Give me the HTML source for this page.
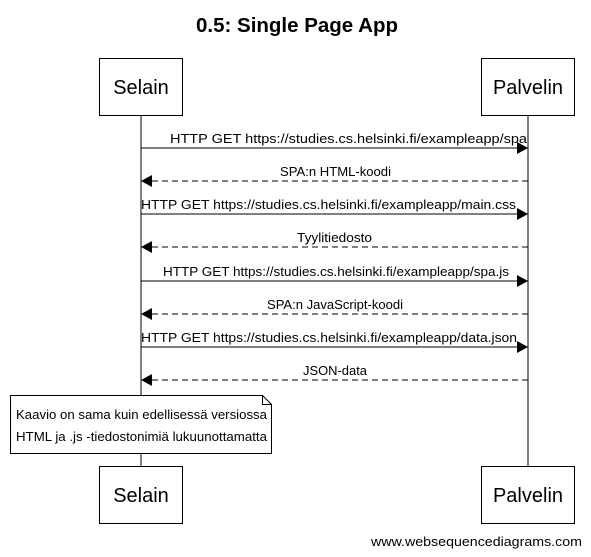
<!DOCTYPE html>
<html><head><meta charset="utf-8"><style>body{margin:0;background:#fff}svg{display:block}</style></head><body>
<svg width="591" height="557" xmlns="http://www.w3.org/2000/svg" font-family="Liberation Sans, Arial, sans-serif">
<defs><marker id="a" markerWidth="12" markerHeight="12" refX="11" refY="6" orient="auto" markerUnits="userSpaceOnUse"><path d="M0,0 L11,6 L0,12 z" fill="#000"/></marker></defs>
<text x="196" y="32" textLength="202" lengthAdjust="spacingAndGlyphs" font-size="20" font-weight="bold">0.5: Single Page App</text>
<line x1="141" y1="115" x2="141" y2="466" stroke="#000"/>
<line x1="528" y1="115" x2="528" y2="466" stroke="#000"/>
<g fill="#fff" stroke="#000">
<rect x="99.5" y="58.5" width="83" height="57"/><rect x="481.5" y="58.5" width="93" height="57"/>
<rect x="99.5" y="466.5" width="83" height="57"/><rect x="481.5" y="466.5" width="93" height="57"/>
</g>
<g font-size="20" text-anchor="middle">
<text x="141" y="94">Selain</text><text x="528" y="94">Palvelin</text>
<text x="141" y="502">Selain</text><text x="528" y="502">Palvelin</text>
</g>
<g stroke="#000" marker-end="url(#a)">
<line x1="141" y1="148" x2="528" y2="148"/>
<line x1="528" y1="181" x2="141" y2="181" stroke-dasharray="6,4"/>
<line x1="141" y1="214" x2="528" y2="214"/>
<line x1="528" y1="247" x2="141" y2="247" stroke-dasharray="6,4"/>
<line x1="141" y1="281" x2="528" y2="281"/>
<line x1="528" y1="314" x2="141" y2="314" stroke-dasharray="6,4"/>
<line x1="141" y1="347" x2="528" y2="347"/>
<line x1="528" y1="380" x2="141" y2="380" stroke-dasharray="6,4"/>
</g>
<g font-size="12.5" lengthAdjust="spacingAndGlyphs">
<text x="170" y="143" textLength="357" lengthAdjust="spacingAndGlyphs">HTTP GET https://studies.cs.helsinki.fi/exampleapp/spa</text>
<text x="280" y="176" textLength="111" lengthAdjust="spacingAndGlyphs">SPA:n HTML-koodi</text>
<text x="141" y="209" textLength="375" lengthAdjust="spacingAndGlyphs">HTTP GET https://studies.cs.helsinki.fi/exampleapp/main.css</text>
<text x="297" y="242" textLength="75" lengthAdjust="spacingAndGlyphs">Tyylitiedosto</text>
<text x="163" y="276" textLength="346" lengthAdjust="spacingAndGlyphs">HTTP GET https://studies.cs.helsinki.fi/exampleapp/spa.js</text>
<text x="267" y="309" textLength="136" lengthAdjust="spacingAndGlyphs">SPA:n JavaScript-koodi</text>
<text x="141" y="342" textLength="376" lengthAdjust="spacingAndGlyphs">HTTP GET https://studies.cs.helsinki.fi/exampleapp/data.json</text>
<text x="303" y="375" textLength="64" lengthAdjust="spacingAndGlyphs">JSON-data</text>
</g>
<path d="M10.5,395.5 H262.5 L271.5,404.5 V453.5 H10.5 Z" fill="#fff" stroke="#000"/>
<path d="M262.5,395.5 V404.5 H271.5" fill="none" stroke="#000"/>
<g font-size="12.5">
<text x="16" y="419" textLength="251" lengthAdjust="spacingAndGlyphs">Kaavio on sama kuin edellisessä versiossa</text>
<text x="16" y="441" textLength="251" lengthAdjust="spacingAndGlyphs">HTML ja .js -tiedostonimiä lukuunottamatta</text>
</g>
<text x="371" y="546" font-size="13" textLength="211" lengthAdjust="spacingAndGlyphs">www.websequencediagrams.com</text>
</svg>
</body></html>
